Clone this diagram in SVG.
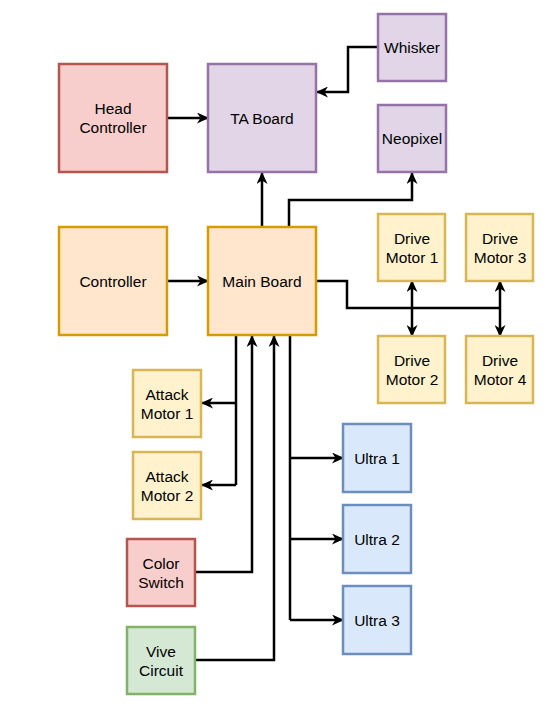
<svg xmlns="http://www.w3.org/2000/svg" width="559" height="707" viewBox="0 0 559 707">
<style>
text{font-family:"Liberation Sans",Arial,sans-serif;font-size:15.5px;fill:#000;text-anchor:middle}
rect{stroke-width:2.5}
.red{fill:#f8cecc;stroke:#b85450}
.pur{fill:#e1d5e7;stroke:#9673a6}
.org{fill:#ffe6cc;stroke:#d79b00}
.yel{fill:#fff2cc;stroke:#d6b656}
.blu{fill:#dae8fc;stroke:#6c8ebf}
.grn{fill:#d5e8d4;stroke:#82b366}
.c path{fill:none;stroke:#000;stroke-width:2.5}
.a{marker-end:url(#ah)}
.d{marker-start:url(#ah);marker-end:url(#ah)}
</style>
<defs>
<marker id="ah" markerUnits="userSpaceOnUse" viewBox="0 0 12 11" markerWidth="12" markerHeight="11" refX="11" refY="5.5" orient="auto-start-reverse">
<path d="M0,0 L12,5.5 L0,11 L3.5,5.5 Z" fill="#000" stroke="none"/>
</marker>
</defs>
<rect width="559" height="707" fill="#fff"/>
<g class="c">
<path class="a" d="M168,118 L208,118"/>
<path class="a" d="M378,47 L348,47 L348,92 L317,92"/>
<path class="a" d="M262,227 L262,173"/>
<path class="a" d="M289,227 L289,200 L412,200 L412,173"/>
<path class="a" d="M168,281 L208,281"/>
<path d="M317,281 L347,281 L347,308 L500,308"/>
<path class="d" d="M412,281 L412,336"/>
<path class="d" d="M500,281 L500,336"/>
<path d="M236,336 L236,485"/>
<path class="a" d="M236,403 L202,403"/>
<path class="a" d="M236,485 L202,485"/>
<path class="a" d="M196,572 L252,572 L252,336"/>
<path class="a" d="M196,660 L274,660 L274,336"/>
<path d="M290,336 L290,620"/>
<path class="a" d="M290,458 L343,458"/>
<path class="a" d="M290,539 L343,539"/>
<path class="a" d="M290,620 L343,620"/>
</g>
<g id="head-controller"><rect class="red" x="59" y="64" width="108" height="108"/><text x="113" y="114">Head</text><text x="113" y="133">Controller</text></g>
<g id="ta-board"><rect class="pur" x="208" y="64" width="108" height="108"/><text x="262" y="124">TA Board</text></g>
<g id="whisker"><rect class="pur" x="378" y="14" width="68" height="67"/><text x="412" y="53">Whisker</text></g>
<g id="neopixel"><rect class="pur" x="378" y="105" width="68" height="67"/><text x="412" y="144">Neopixel</text></g>
<g id="controller"><rect class="org" x="59" y="227" width="108" height="108"/><text x="113" y="287">Controller</text></g>
<g id="main-board"><rect class="org" x="208" y="227" width="108" height="108"/><text x="262" y="287">Main Board</text></g>
<g id="drive-motor-1"><rect class="yel" x="378" y="214" width="67" height="67"/><text x="412" y="244">Drive</text><text x="412" y="263">Motor 1</text></g>
<g id="drive-motor-3"><rect class="yel" x="466" y="214" width="67" height="67"/><text x="500" y="244">Drive</text><text x="500" y="263">Motor 3</text></g>
<g id="drive-motor-2"><rect class="yel" x="378" y="336" width="67" height="67"/><text x="412" y="366">Drive</text><text x="412" y="385">Motor 2</text></g>
<g id="drive-motor-4"><rect class="yel" x="466" y="336" width="67" height="67"/><text x="500" y="366">Drive</text><text x="500" y="385">Motor 4</text></g>
<g id="attack-motor-1"><rect class="yel" x="133" y="370" width="68" height="67"/><text x="167" y="400">Attack</text><text x="167" y="419">Motor 1</text></g>
<g id="attack-motor-2"><rect class="yel" x="133" y="452" width="68" height="67"/><text x="167" y="482">Attack</text><text x="167" y="501">Motor 2</text></g>
<g id="color-switch"><rect class="red" x="127" y="539" width="68" height="67"/><text x="161" y="569">Color</text><text x="161" y="588">Switch</text></g>
<g id="vive-circuit"><rect class="grn" x="127" y="627" width="68" height="67"/><text x="161" y="657">Vive</text><text x="161" y="676">Circuit</text></g>
<g id="ultra-1"><rect class="blu" x="343" y="424" width="68" height="68"/><text x="377" y="464">Ultra 1</text></g>
<g id="ultra-2"><rect class="blu" x="343" y="505" width="68" height="68"/><text x="377" y="545">Ultra 2</text></g>
<g id="ultra-3"><rect class="blu" x="343" y="586" width="68" height="68"/><text x="377" y="626">Ultra 3</text></g>
</svg>
